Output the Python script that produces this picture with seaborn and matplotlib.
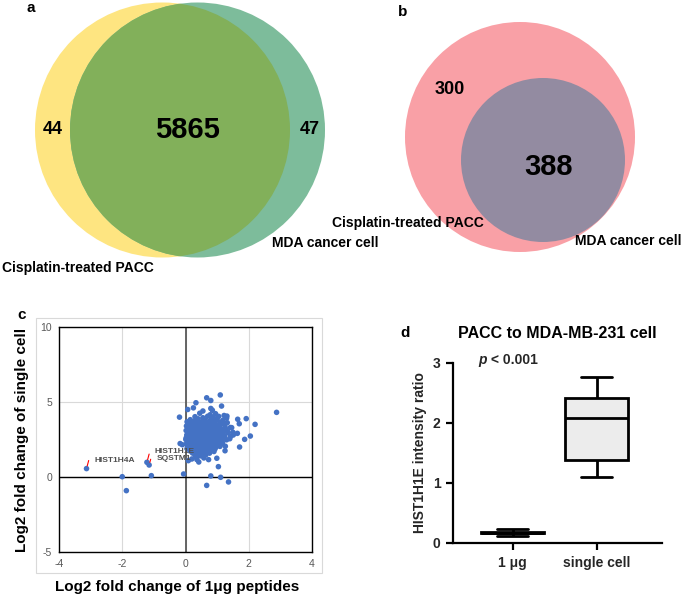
import numpy as np
import pandas as pd
import matplotlib
matplotlib.use("Agg")
import matplotlib.pyplot as plt
from matplotlib.patches import Circle, Rectangle
import seaborn as sns

# ---- data -----------------------------------------------------------------
venn_a_counts = [44, 5865, 47]          # PACC only, both, MDA only
venn_a_names = ["Cisplatin-treated PACC", "MDA cancer cell"]
venn_b_counts = [300, 388]              # PACC only, both
venn_b_names = ["Cisplatin-treated PACC", "MDA cancer cell"]

# log2 fold change: x = 1ug peptides, y = single cell
cluster_pts = [
    (0.45, 4.25), (0.78, 4.15), (0.95, 4.22), (1.22, 4.10),
    (0.30, 4.02), (0.55, 3.95), (0.70, 4.05), (0.88, 3.98), (1.05, 4.04), (1.30, 3.92),
    (0.15, 3.82), (0.40, 3.88), (0.62, 3.80), (0.82, 3.86), (1.00, 3.83), (1.18, 3.78),
    (0.05, 3.68), (0.28, 3.72), (0.47, 3.66), (0.58, 3.74), (0.74, 3.69), (0.90, 3.71),
    (1.10, 3.65), (1.32, 3.62),
    (0.12, 3.55), (0.22, 3.50), (0.36, 3.57), (0.51, 3.52), (0.66, 3.58), (0.79, 3.53),
    (0.93, 3.56), (1.04, 3.49), (1.21, 3.54),
    (0.03, 3.40), (0.18, 3.37), (0.30, 3.43), (0.42, 3.38), (0.55, 3.42), (0.68, 3.36),
    (0.81, 3.41), (0.95, 3.39), (1.08, 3.44), (1.25, 3.35), (1.42, 3.30),
    (0.08, 3.24), (0.20, 3.27), (0.33, 3.22), (0.45, 3.26), (0.58, 3.21), (0.71, 3.28),
    (0.84, 3.23), (0.98, 3.25), (1.12, 3.20), (1.28, 3.18),
    (0.02, 3.10), (0.14, 3.07), (0.26, 3.12), (0.38, 3.08), (0.50, 3.11), (0.62, 3.06),
    (0.75, 3.13), (0.88, 3.09), (1.01, 3.05), (1.15, 3.11), (1.33, 3.02), (1.50, 2.98),
    (0.09, 2.96), (0.21, 2.92), (0.33, 2.97), (0.44, 2.93), (0.56, 2.98), (0.67, 2.91),
    (0.79, 2.95), (0.92, 2.94), (1.05, 2.90), (1.19, 2.96),
    (0.04, 2.80), (0.16, 2.83), (0.28, 2.78), (0.40, 2.81), (0.52, 2.77), (0.63, 2.82),
    (0.74, 2.79), (0.86, 2.84), (0.97, 2.76), (1.10, 2.80), (1.24, 2.74), (1.42, 2.70),
    (0.10, 2.64), (0.22, 2.67), (0.34, 2.62), (0.47, 2.66), (0.58, 2.63), (0.70, 2.68),
    (0.82, 2.61), (0.94, 2.65), (1.07, 2.60), (1.20, 2.66),
    (0.01, 2.50), (0.13, 2.47), (0.26, 2.52), (0.38, 2.48), (0.49, 2.53), (0.61, 2.46),
    (0.73, 2.51), (0.85, 2.49), (0.98, 2.54), (1.13, 2.45), (1.30, 2.48),
    (0.07, 2.36), (0.19, 2.33), (0.31, 2.37), (0.43, 2.32), (0.55, 2.38), (0.66, 2.34),
    (0.78, 2.31), (0.90, 2.36), (1.03, 2.33), (1.17, 2.29),
    (0.03, 2.21), (0.15, 2.18), (0.27, 2.22), (0.39, 2.17), (0.50, 2.23), (0.62, 2.19),
    (0.75, 2.16), (0.88, 2.21), (1.00, 2.14), (1.14, 2.20),
    (0.10, 2.06), (0.23, 2.02), (0.35, 2.07), (0.47, 2.03), (0.59, 2.08), (0.71, 2.01),
    (0.84, 2.05), (0.96, 1.99), (1.09, 2.04),
    (0.05, 1.90), (0.18, 1.87), (0.30, 1.92), (0.43, 1.88), (0.56, 1.91), (0.68, 1.85),
    (0.80, 1.89), (0.93, 1.86),
    (0.14, 1.74), (0.27, 1.77), (0.40, 1.72), (0.52, 1.76), (0.65, 1.71), (0.78, 1.75),
    (0.90, 1.70),
    (0.22, 1.60), (0.36, 1.57), (0.50, 1.62), (0.62, 1.56), (0.76, 1.59),
    (0.30, 1.45), (0.48, 1.42), (0.64, 1.47),
    (0.35, 1.30), (0.58, 1.27),
]
outlier_pts = [
    (-3.13, 0.56), (-2.00, 0.02), (-1.87, -0.91), (-1.22, 0.98), (-1.15, 0.80),
    (-1.08, 0.09), (-0.06, 0.20), (-0.19, 3.99), (-0.17, 2.23), (-0.10, 2.15),
    (0.67, -0.56), (0.80, 0.07), (1.11, -0.02), (1.36, -0.33), (1.04, 0.69),
    (2.88, 4.31), (2.20, 3.51), (1.92, 3.89), (1.65, 3.85), (1.70, 3.55),
    (2.05, 2.73), (1.87, 2.51), (1.71, 2.00), (1.10, 5.47), (0.67, 5.28),
    (0.80, 5.10), (0.33, 4.95), (0.07, 4.50), (0.25, 4.61), (1.14, 4.73),
    (0.80, 4.57), (0.36, 1.16), (0.09, 1.09), (0.46, 1.43), (0.73, 1.16),
    (0.99, 1.25), (1.26, 2.05), (1.46, 3.29), (1.31, 4.06), (1.51, 2.80),
    (1.64, 2.91), (1.35, 2.95), (0.55, 4.40), (0.85, 4.45), (1.40, 2.55),
    (1.25, 1.75), (0.20, 1.20), (0.42, 1.00), (0.02, 2.60),
]
gene_names = ["HIST1H4A", "HIST1H1E", "SQSTM1"]
gene_x = [-3.13, -1.22, -1.15]
gene_y = [0.56, 0.98, 0.80]
gene_text_x = [-2.87, -0.99, -0.91]
gene_text_y = [1.11, 1.67, 1.20]

box_groups = ["1 μg", "single cell"]
ratio_1ug = [0.12, 0.16, 0.17, 0.19, 0.23]
ratio_single = [1.10, 1.38, 2.08, 2.42, 2.77]

# ---- style ----------------------------------------------------------------
sns.set_theme(style="white")
plt.rcParams["font.family"] = ["Liberation Sans", "DejaVu Sans"]
plt.rcParams["axes.unicode_minus"] = False

W, H = 685, 596
fig = plt.figure(figsize=(W / 100, H / 100), dpi=100)

# background axes in pixel coordinates for the venn panels and free texts
bg = fig.add_axes([0, 0, 1, 1])
bg.set_xlim(0, W)
bg.set_ylim(H, 0)
bg.axis("off")

bold = dict(fontweight="bold", color="black")

# panel a
yel = Circle((162.5, 130), 127.5, facecolor="#FEE581", edgecolor="none")
teal = Circle((197.5, 130), 127.5, facecolor="#7DBC9B", edgecolor="none")
bg.add_patch(yel)
bg.add_patch(teal)
mid = Circle((197.5, 130), 127.5, facecolor="#82B05A", edgecolor="none")
bg.add_patch(mid)
mid.set_clip_path(yel)
bg.text(53, 130, str(venn_a_counts[0]), fontsize=13, ha="center", va="center", **bold)
bg.text(187, 130, str(venn_a_counts[1]), fontsize=21, ha="center", va="center", **bold)
bg.text(310, 130, str(venn_a_counts[2]), fontsize=13, ha="center", va="center", **bold)
bg.text(2, 268, venn_a_names[0], fontsize=10, ha="left", va="center", **bold)
bg.text(272, 243, venn_a_names[1], fontsize=10, ha="left", va="center", **bold)
bg.text(31, 8, "a", fontsize=11, ha="center", va="center", **bold)

# panel b
bg.add_patch(Circle((520, 137), 115, facecolor="#F9A0A6", edgecolor="none"))
bg.add_patch(Circle((543, 160), 82, facecolor="#938BA1", edgecolor="none"))
bg.text(450, 90, str(venn_b_counts[0]), fontsize=13, ha="center", va="center", **bold)
bg.text(549, 167, str(venn_b_counts[1]), fontsize=21, ha="center", va="center", **bold)
bg.text(484, 223, venn_b_names[0], fontsize=10, ha="right", va="center", **bold)
bg.text(575, 241, venn_b_names[1], fontsize=10, ha="left", va="center", **bold)
bg.text(403, 12, "b", fontsize=11, ha="center", va="center", **bold)

# panel c frame + labels
bg.add_patch(Rectangle((36, 318), 286, 255, facecolor="none", edgecolor="#d9d9d9", lw=0.8))
bg.text(22, 315, "c", fontsize=11, ha="center", va="center", **bold)
bg.text(177, 587, "Log2 fold change of 1μg peptides", fontsize=11, ha="center", va="center", **bold)
bg.text(22, 440, "Log2 fold change of single cell", fontsize=11, rotation=90,
        ha="center", va="center", **bold)

# panel d texts
bg.text(405, 333, "d", fontsize=11, ha="center", va="center", **bold)
bg.text(557, 333, "PACC to MDA-MB-231 cell", fontsize=11.5, ha="center", va="center", **bold)

# ---- panel c scatter ------------------------------------------------------
pts = cluster_pts + outlier_pts
df_sc = pd.DataFrame(pts, columns=["fc_1ug", "fc_single"])

axc = fig.add_axes([59 / W, 1 - 552 / H, 253 / W, 225 / H])
axc.set_xlim(-4, 4)
axc.set_ylim(-5, 10)
axc.set_xticks([-4, -2, 0, 2, 4])
axc.set_yticks([-5, 0, 5, 10])
axc.grid(True, color="#d9d9d9", lw=0.8)
axc.axvline(0, color="#595959", lw=1.3, zorder=1)
axc.axhline(0, color="black", lw=1.0, zorder=1)
sns.scatterplot(data=df_sc, x="fc_1ug", y="fc_single", ax=axc, color="#4472C4",
                s=16, edgecolor="none", zorder=3)
axc.set_xlabel("")
axc.set_ylabel("")
axc.tick_params(length=0, labelsize=7.5, labelcolor="#595959", pad=5)
for sp in axc.spines.values():
    sp.set_color("black")
    sp.set_linewidth(1.0)

for name, gx, gy, tx, ty in zip(gene_names, gene_x, gene_y, gene_text_x, gene_text_y):
    axc.annotate(name, xy=(gx, gy), xytext=(tx, ty), fontsize=6, fontweight="bold",
                 color="#505050", ha="left", va="center",
                 arrowprops=dict(arrowstyle="-", color="red", lw=0.8, shrinkA=2, shrinkB=2,
                                 relpos=(0, 0.5),
                                 connectionstyle="angle,angleA=180,angleB=75,rad=0"))

# ---- panel d boxplot ------------------------------------------------------
df_box = pd.DataFrame({
    "group": [box_groups[0]] * len(ratio_1ug) + [box_groups[1]] * len(ratio_single),
    "ratio": ratio_1ug + ratio_single,
})

axd = fig.add_axes([453 / W, 1 - 543 / H, 209 / W, 180 / H])
axd.patch.set_alpha(0)
sns.boxplot(data=df_box, x="group", y="ratio", order=box_groups, ax=axd,
            color="#ececec", linecolor="black", linewidth=2, width=0.75,
            whis=(0, 100), showfliers=False, saturation=1)
axd.set_xlim(-0.71, 1.78)
axd.set_ylim(0, 3)
axd.set_yticks([0, 1, 2, 3])
axd.set_xlabel("")
axd.set_ylabel("HIST1H1E intensity ratio", fontsize=10, fontweight="bold", labelpad=4)
sns.despine(ax=axd)
for sp in ["left", "bottom"]:
    axd.spines[sp].set_linewidth(1.6)
    axd.spines[sp].set_color("black")
axd.tick_params(axis="both", direction="out", length=5, width=1.6, color="black",
                labelsize=10, left=True, bottom=True, pad=4)
for lab in axd.get_xticklabels() + axd.get_yticklabels():
    lab.set_fontweight("bold")

# p-value on top of everything
fig.text(478 / W, 1 - 360 / H, "p", fontsize=10, ha="left", va="center",
         fontstyle="italic", fontweight="bold")
fig.text(487 / W, 1 - 360 / H, " < 0.001", fontsize=10, ha="left", va="center",
         fontweight="bold")

fig.savefig("out.png", dpi=100)
